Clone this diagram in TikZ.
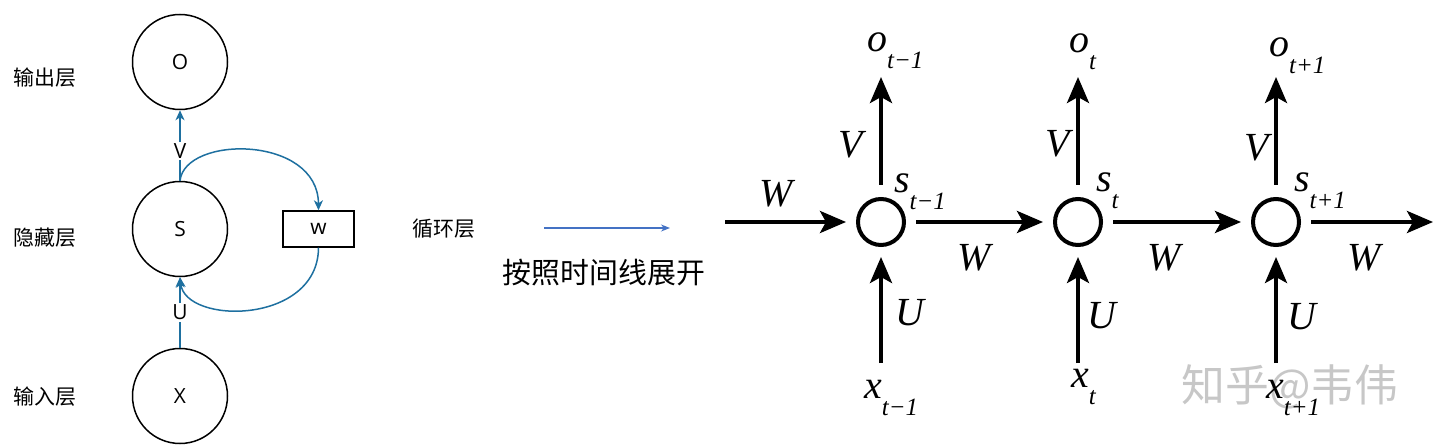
\documentclass[tikz,border=0pt]{standalone}
\usepackage{fontspec}
\setmainfont{Liberation Serif}
\newfontfamily\cjkf{Noto Sans CJK SC}
\newfontfamily\sansf{Open Sans}
\usetikzlibrary{arrows.meta}
\definecolor{lblue}{RGB}{30,112,160}
\definecolor{mblue}{RGB}{68,114,196}
\newcommand{\rlab}[2]{{\fontsize{40}{40}\selectfont\itshape #1}\raisebox{-17bp}{\fontsize{25}{25}\selectfont\itshape #2}}
\begin{document}
\begin{tikzpicture}[x=1bp,y=-1bp,
  layer/.style={circle,draw,line width=1.5bp,minimum size=95bp,inner sep=0pt,font=\sansf\fontsize{21}{21}\selectfont},
  wbox/.style={draw,line width=1.4bp,minimum width=71bp,minimum height=36bp,inner sep=0pt,font=\sansf\fontsize{21}{21}\selectfont},
  lbl/.style={fill=white,inner sep=1.5bp,font=\sansf\fontsize{21}{21}\selectfont},
  cjklbl/.style={inner sep=0pt,font=\cjkf\fontsize{21}{21}\selectfont},
  barrow/.style={draw=lblue,line width=1.5bp,-{Stealth[length=10bp,width=9bp,inset=3bp]},color=lblue},
  rnode/.style={circle,draw,line width=4bp,minimum size=46bp,inner sep=0pt},
  rarrow/.style={line width=4bp,-{Stealth[length=26bp,width=22bp,inset=6bp]}},
  rl/.style={inner sep=0pt,font=\fontsize{40}{40}\selectfont\itshape},
  sl/.style={anchor=base west,inner sep=0pt}
]
\fill[white] (0,0) rectangle (1440,446);
\useasboundingbox (0,0) rectangle (1440,446);

% ---------- left: folded RNN ----------
\node[layer] (O) at (180,62) {O};
\node[layer] (S) at (180,229) {S};
\node[layer] (X) at (180,396) {X};
\node[wbox] (Wb) at (318.5,229) {w};

\node[cjklbl] (lo) at (45,78) {输出层};
\node[cjklbl] (ls) at (45,238) {隐藏层};
\node[cjklbl] (lx) at (45,397) {输入层};
\node[cjklbl] (lw) at (444,229) {循环层};

\draw[barrow] (S) -- node[lbl,pos=0.42,text=black] (lv) {V} (O);
\draw[barrow] (X) -- node[lbl,pos=0.5,text=black] (lu) {U} (S);
\draw[barrow] (S.north) .. controls (185,135) and (318,135) .. (Wb.north);
\draw[barrow] (Wb.south) .. controls (318,325) and (185,325) .. (S.south);

% ---------- middle ----------
\coordinate (ma) at (544,228);
\coordinate (mb) at (670,228);
\draw[mblue,line width=1.1bp,-{Stealth[length=9bp,width=7bp]}] (ma) -- (mb);
\node[inner sep=0pt,font=\cjkf\fontsize{29}{29}\selectfont] (unroll) at (604,273) {按照时间线展开};

% ---------- right: unrolled RNN ----------
\node[inner sep=0pt,font=\cjkf\fontsize{44}{44}\selectfont,text=black!22] (wm) at (1290,387) {知乎@韦伟};

\node[rnode] (c1) at (881,222) {};
\node[rnode] (c2) at (1078,222) {};
\node[rnode] (c3) at (1276,222) {};

\coordinate (in) at (725,222);
\coordinate (out) at (1433,222);
\coordinate (up1) at (881,77);
\coordinate (up2) at (1078,77);
\coordinate (up3) at (1276,77);
\coordinate (dn1) at (881,363);
\coordinate (dn2) at (1078,363);
\coordinate (dn3) at (1276,363);

\draw[rarrow,shorten >=10bp] (in) -- (c1);
\draw[rarrow,shorten <=10bp,shorten >=10bp] (c1) -- (c2);
\draw[rarrow,shorten <=10bp,shorten >=10bp] (c2) -- (c3);
\draw[rarrow,shorten <=10bp] (c3) -- (out);
\draw[rarrow,shorten <=12bp] (c1) -- (up1);
\draw[rarrow,shorten <=12bp] (c2) -- (up2);
\draw[rarrow,shorten <=12bp] (c3) -- (up3);
\draw[rarrow,shorten >=10bp] (dn1) -- (c1);
\draw[rarrow,shorten >=10bp] (dn2) -- (c2);
\draw[rarrow,shorten >=10bp] (dn3) -- (c3);

\node[rl] (w0) at (776,194) {W};
\node[rl] (w1) at (974,258) {W};
\node[rl] (w2) at (1164,258) {W};
\node[rl] (w3) at (1364,258) {W};

\node[rl] (v1) at (851,145) {V};
\node[rl] (v2) at (1058,144) {V};
\node[rl] (v3) at (1257,148) {V};
\node[rl] (u1) at (910,313) {U};
\node[rl] (u2) at (1102,316) {U};
\node[rl] (u3) at (1302,317) {U};

\node[sl] (o1) at (867,52) {\rlab{o}{t−1}};
\node[sl] (o2) at (1069,53) {\rlab{o}{t}};
\node[sl] (o3) at (1269,57) {\rlab{o}{t+1}};
\node[sl] (s1) at (894,193) {\rlab{s}{t−1}};
\node[sl] (s2) at (1096,192) {\rlab{s}{t}};
\node[sl] (s3) at (1294,192) {\rlab{s}{t+1}};
\node[sl] (x1) at (864,398) {\rlab{x}{t−1}};
\node[sl] (x2) at (1071,387) {\rlab{x}{t}};
\node[sl] (x3) at (1266,398) {\rlab{x}{t+1}};
\end{tikzpicture}
\end{document}
